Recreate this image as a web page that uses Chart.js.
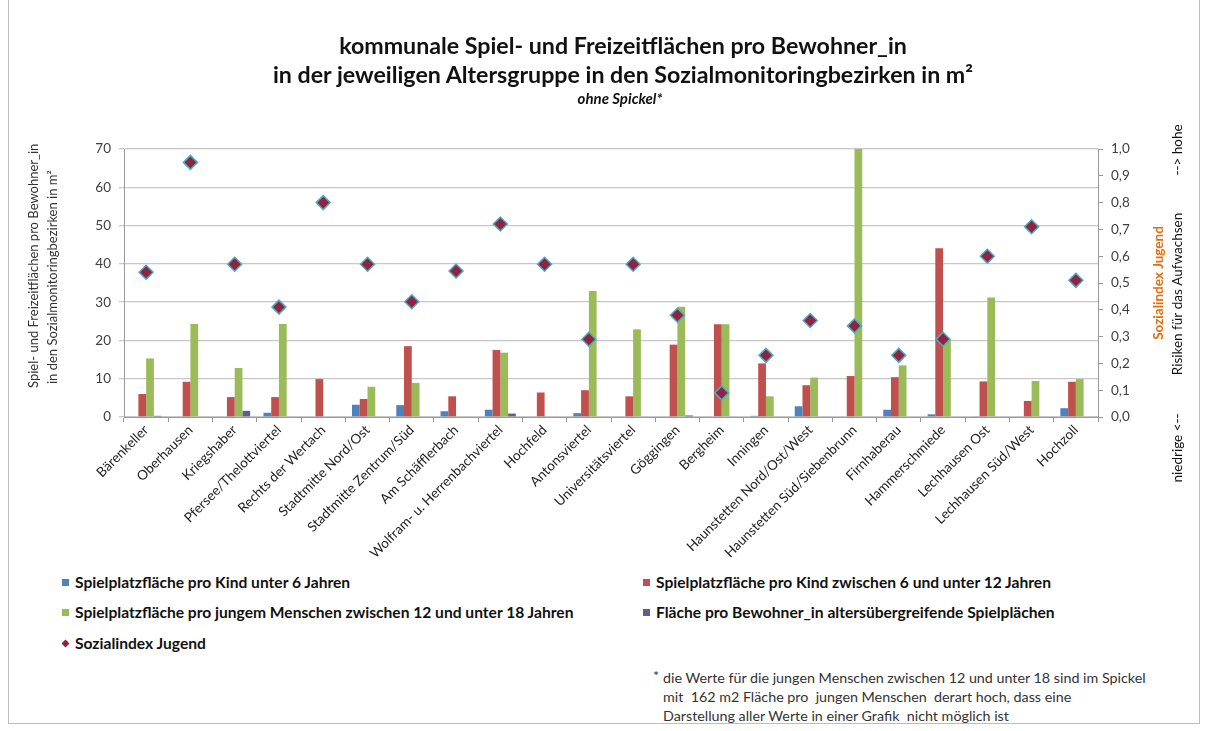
<!DOCTYPE html>
<html>
<head>
<meta charset="utf-8">
<script src="https://cdn.jsdelivr.net/npm/chart.js@4/dist/chart.umd.min.js"></script>
<style>
  body { margin: 0; background: #fff; font-family: Lato, "Open Sans", sans-serif; }
  #wrap { position: relative; width: 1206px; height: 731px; overflow: hidden; }
  #frame { position: absolute; left: 8px; top: -2px; width: 1190px; height: 724px; border: 1px solid #bdbdbd; }
  #myChart { position: absolute; left: 0; top: 0; }
  .title { position: absolute; left: 0; width: 1246px; text-align: center; font-weight: bold; color: #111; }
  .leg { position: absolute; font-weight: bold; font-size: 15.6px; color: #111; white-space: nowrap; }
  .leg i { display: inline-block; width: 7px; height: 7px; margin-right: 6px; vertical-align: 2px; }
  .note { position: absolute; left: 663px; top: 668px; font-size: 14.3px; line-height: 19px; color: #333; }
</style>
</head>
<body>
<div id="wrap">
  <div id="frame"></div>
  <canvas id="myChart" width="1206" height="560"></canvas>
  <div class="title" style="top:31px;font-size:23.2px;">kommunale Spiel- und Freizeitflächen pro Bewohner_in</div>
  <div class="title" style="top:60px;font-size:23.2px;">in der jeweiligen Altersgruppe in den Sozialmonitoringbezirken in m²</div>
  <div class="title" style="top:89px;font-size:15px;font-style:italic;left:-3px;">ohne Spickel*</div>

  <div class="leg" style="left:62px;top:573px;"><i style="background:#4F81BD"></i>Spielplatzfläche pro Kind unter 6 Jahren</div>
  <div class="leg" style="left:62px;top:603px;"><i style="background:#9BBB59"></i>Spielplatzfläche pro jungem Menschen zwischen 12 und unter 18 Jahren</div>
  <div class="leg" style="left:62px;top:634px;"><i style="background:#8E2440;transform:rotate(45deg) scale(0.8)"></i>Sozialindex Jugend</div>
  <div class="leg" style="left:643px;top:573px;"><i style="background:#C0504D"></i>Spielplatzfläche pro Kind zwischen 6 und unter 12 Jahren</div>
  <div class="leg" style="left:643px;top:603px;"><i style="background:#5B5F8E"></i>Fläche pro Bewohner_in altersübergreifende Spielplächen</div>

  <div class="note"><span style="position:absolute;left:-10px;top:-2px;">*</span>die Werte für die jungen Menschen zwischen 12 und unter 18 sind im Spickel<br>mit&nbsp; 162 m2 Fläche pro&nbsp; jungen Menschen&nbsp; derart hoch, dass eine<br>Darstellung aller Werte in einer Grafik&nbsp; nicht möglich ist</div>
</div>

<script>
// Bezirke
var bezirke = ["Bärenkeller", "Oberhausen", "Kriegshaber", "Pfersee/Thelottviertel", "Rechts der Wertach",
  "Stadtmitte Nord/Ost", "Stadtmitte Zentrum/Süd", "Am Schäfflerbach", "Wolfram- u. Herrenbachviertel",
  "Hochfeld", "Antonsviertel", "Universitätsviertel", "Göggingen", "Bergheim", "Inningen",
  "Haunstetten Nord/Ost/West", "Haunstetten Süd/Siebenbrunn", "Firnhaberau", "Hammerschmiede",
  "Lechhausen Ost", "Lechhausen Süd/West", "Hochzoll"];

// m² pro Bewohner_in
var unter6 =    [0, 0, 0, 1.1, 0, 3.2, 3.1, 1.5, 1.9, 0, 1.0, 0, 0, 0, 0.3, 2.8, 0, 1.9, 0.7, 0.2, 0, 2.3];
var von6bis12 = [6.0, 9.2, 5.2, 5.2, 9.9, 4.7, 18.5, 5.4, 17.5, 6.4, 7.0, 5.4, 18.9, 24.2, 14.0, 8.3, 10.7, 10.4, 44.1, 9.3, 4.2, 9.2];
var von12bis18 = [15.3, 24.3, 12.8, 24.3, 0, 7.9, 8.9, 0, 16.8, 0, 32.9, 22.9, 28.8, 24.2, 5.4, 10.3, 70, 13.5, 20.1, 31.2, 9.4, 9.9];
var altersuebergreifend = [0.3, 0, 1.6, 0, 0, 0, 0, 0, 0.9, 0, 0, 0, 0.4, 0, 0, 0, 0, 0, 0, 0, 0, 0];

// Sozialindex Jugend (rechte Achse)
var sozialindex = [0.54, 0.95, 0.57, 0.41, 0.80, 0.57, 0.43, 0.545, 0.72, 0.57, 0.29, 0.57,
  0.38, 0.09, 0.23, 0.36, 0.34, 0.23, 0.29, 0.60, 0.71, 0.51];

var flaecheTicks = [0, 10, 20, 30, 40, 50, 60, 70];

var achsenTitel = {
  id: "achsenTitel",
  afterDraw: function (chart) {
    var c = chart.ctx;
    c.save();
    c.font = "13px Lato";
    c.fillStyle = "#333";
    c.textBaseline = "middle";
    c.translate(34, 388);
    c.rotate(-Math.PI / 2);
    c.textAlign = "left";
    c.fillText("Spiel- und Freizeitflächen pro Bewohner_in", 0, 0);
    c.fillText("in den Sozialmonitoringbezirken in m²", 4, 19);
    c.restore();

    c.save();
    c.textBaseline = "middle";
    c.textAlign = "center";
    c.translate(1159, 283);
    c.rotate(-Math.PI / 2);
    c.font = "bold 13.5px Lato";
    c.fillStyle = "#E46C0A";
    c.fillText("Sozialindex Jugend", 0, 0);
    c.restore();

    c.save();
    c.textBaseline = "middle";
    c.textAlign = "center";
    c.font = "13.5px Lato";
    c.fillStyle = "#111";
    c.translate(1178, 0);
    c.rotate(-Math.PI / 2);
    c.fillText("niedrige <--", -448, 0);
    c.fillText("Risiken für das Aufwachsen", -294, 0);
    c.fillText("--> hohe", -150, 0);
    c.restore();
  }
};

var ctx = document.getElementById("myChart").getContext("2d");

var myChart = new Chart(ctx, {
  data: {
    labels: bezirke,
    datasets: [
      {
        type: "scatter",
        label: "Sozialindex Jugend",
        data: sozialindex,
        yAxisID: "y1",
        showLine: false,
        pointStyle: "rectRot",
        pointRadius: 7,
        backgroundColor: "#8E2440",
        borderColor: "#4BACC6",
        borderWidth: 1.5,
        order: 0
      },
      { type: "bar", label: "unter 6", data: unter6, backgroundColor: "#4F81BD", yAxisID: "y", order: 1 },
      { type: "bar", label: "6 bis 12", data: von6bis12, backgroundColor: "#C0504D", yAxisID: "y", order: 1 },
      { type: "bar", label: "12 bis 18", data: von12bis18, backgroundColor: "#9BBB59", yAxisID: "y", order: 1 },
      { type: "bar", label: "altersübergreifend", data: altersuebergreifend, backgroundColor: "#5B5F8E", yAxisID: "y", order: 1 }
    ]
  },
  options: {
    responsive: false,
    animation: false,
    layout: { padding: { top: 149, left: 0, right: 0, bottom: 0 } },
    datasets: { bar: { categoryPercentage: 0.7, barPercentage: 1.0 } },
    plugins: { legend: { display: false }, tooltip: { enabled: false } },
    scales: {
      x: {
        type: "category",
        offset: true,
        grid: { display: true, drawOnChartArea: false, drawTicks: true, tickLength: 5, color: "#999", offset: true },
        border: { color: "#999" },
        ticks: { font: { family: "Lato", size: 13.5 }, color: "#222", minRotation: 45, maxRotation: 45, autoSkip: false, padding: 0 },
        afterFit: function (s) { s.height = 143; }
      },
      y: {
        position: "left",
        min: 0,
        max: 70,
        afterBuildTicks: function (s) { s.ticks = flaecheTicks.map(function (v) { return { value: v }; }); },
        grid: { color: "#c8c8c8", tickLength: 5, lineWidth: 1.3 },
        border: { color: "#999" },
        ticks: { font: { family: "Lato", size: 13.5 }, color: "#404040", padding: 8 },
        afterFit: function (s) { s.width = 124; }
      },
      y1: {
        position: "right",
        min: 0,
        max: 1,
        grid: { drawOnChartArea: false, tickLength: 5, color: "#999" },
        border: { color: "#999" },
        ticks: {
          stepSize: 0.1,
          font: { family: "Lato", size: 13.5 },
          color: "#404040",
          padding: 8,
          callback: function (v) { return v.toFixed(1).replace(".", ","); }
        },
        afterFit: function (s) { s.width = 108; }
      }
    }
  },
  plugins: [achsenTitel]
});
</script>
</body>
</html>
